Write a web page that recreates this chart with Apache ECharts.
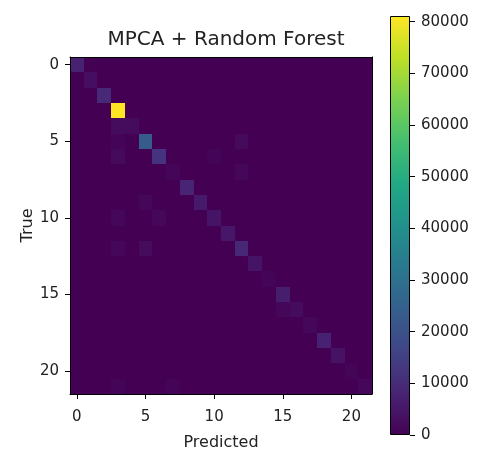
<!DOCTYPE html>
<html>
<head>
<meta charset="utf-8">
<script src="https://cdn.jsdelivr.net/npm/echarts@6/dist/echarts.min.js"></script>
<style>html,body{margin:0;padding:0;background:#fff;}#chart{width:477px;height:450px;}</style>
</head>
<body>
<div id="chart"></div>
<script>
// Class indices (0..21)
var categories = [];
for (var i = 0; i < 22; i++) categories.push(String(i));
var colorbarTicks = [0, 10000, 20000, 30000, 40000, 50000, 60000, 70000, 80000];
var colorMax = 81100;
var titleText = 'MPCA + Random Forest';
var xLabel = 'Predicted';
var yLabel = 'True';

// Confusion matrix rows: True class; columns: Predicted class (estimated values)
var row0  = [7500,300,0,0,0,0,0,0,0,0,0,0,0,0,0,0,0,0,0,0,0,0];
var row1  = [0,3000,0,0,0,0,0,0,0,0,0,0,0,0,0,0,0,0,0,0,0,0];
var row2  = [0,0,9500,0,0,0,0,0,0,0,0,0,0,0,0,0,0,0,0,0,0,0];
var row3  = [0,0,0,81100,0,0,0,0,0,0,0,0,0,0,0,0,0,0,0,0,0,0];
var row4  = [0,0,0,2500,2500,0,0,0,0,0,0,0,0,0,0,0,0,0,0,0,0,0];
var row5  = [0,0,0,1000,0,23500,0,0,0,0,0,0,2000,0,0,0,0,0,0,0,0,0];
var row6  = [0,0,0,2000,0,0,12000,0,0,0,1000,0,0,0,0,0,0,0,0,0,0,0];
var row7  = [0,0,0,0,0,0,0,1200,0,0,0,0,1500,0,0,0,0,0,0,0,0,0];
var row8  = [0,0,0,0,0,0,0,0,8000,0,0,0,0,0,0,0,0,0,0,0,0,0];
var row9  = [0,0,0,0,0,1500,0,0,0,5500,0,0,0,0,0,0,0,0,0,0,0,0];
var row10 = [0,0,0,1500,0,0,1500,0,0,0,4500,0,0,0,0,0,0,0,0,0,0,0];
var row11 = [0,0,0,0,0,0,0,0,0,0,0,5000,0,0,0,0,0,0,0,0,0,0];
var row12 = [0,0,0,1500,0,2500,0,0,0,0,0,0,9000,0,0,0,0,0,0,0,0,0];
var row13 = [0,0,0,0,0,0,0,0,0,0,0,0,0,4500,0,0,0,0,0,0,0,0];
var row14 = [0,0,0,0,0,0,0,0,0,0,0,0,0,0,1000,0,0,0,0,0,0,0];
var row15 = [0,0,0,0,0,0,0,0,0,0,0,0,0,0,0,6500,0,0,0,0,0,0];
var row16 = [0,0,0,0,0,0,0,0,0,0,0,0,0,0,0,1500,2500,0,0,0,0,0];
var row17 = [0,0,0,0,0,0,0,0,0,0,0,0,0,0,0,0,0,1500,0,0,0,0];
var row18 = [0,0,0,0,0,0,0,0,0,0,0,0,0,0,0,0,0,0,7500,0,0,0];
var row19 = [0,0,0,0,0,0,0,0,0,0,0,0,0,0,0,0,0,0,0,4000,0,0];
var row20 = [0,0,0,0,0,0,0,0,0,0,0,0,0,0,0,0,0,0,0,0,1000,0];
var row21 = [0,0,0,1000,0,0,0,1000,0,0,0,0,0,0,0,0,0,0,0,0,0,1500];
var matrix = [row0,row1,row2,row3,row4,row5,row6,row7,row8,row9,row10,row11,row12,row13,row14,row15,row16,row17,row18,row19,row20,row21];

var viridis = ['#440154','#482475','#414487','#355f8d','#2a788e','#21918c','#22a884','#44bf70','#7ad151','#bddf26','#fde725'];

var heatData = [];
for (var r = 0; r < matrix.length; r++) {
  for (var c = 0; c < matrix[r].length; c++) {
    heatData.push([c, r, matrix[r][c]]);
  }
}
var stops = viridis.map(function (col, k) { return { offset: k / (viridis.length - 1), color: col }; });

function snap(v) { return Math.round(v + 1e-6); }
function renderCell(params, api) {
  var center = api.coord([api.value(0), api.value(1)]);
  var size = api.size([1, 1]);
  var x0 = snap(center[0] - size[0] / 2);
  var x1 = snap(center[0] + size[0] / 2);
  var y0 = snap(center[1] - size[1] / 2);
  var y1 = snap(center[1] + size[1] / 2);
  return {
    type: 'rect',
    shape: { x: x0, y: y0, width: x1 - x0, height: y1 - y0 },
    style: { fill: api.visual('color') },
    silent: true
  };
}

var FONT = 'DejaVu Sans';
var TXT = '#222';
var chart = echarts.init(document.getElementById('chart'), null, { renderer: 'canvas' });
chart.setOption({
  animation: false,
  backgroundColor: '#fff',
  title: {
    text: titleText, left: 221, top: 25, textAlign: 'center',
    textStyle: { fontFamily: FONT, fontSize: 20, fontWeight: 'normal', color: TXT }
  },
  grid: [
    { left: 70, top: 57, width: 302, height: 337, outerBoundsMode: 'none', containLabel: false,
      show: true, backgroundColor: '#440154', borderWidth: 0 },
    { left: 390, top: 16, width: 20, height: 419, outerBoundsMode: 'none', containLabel: false }
  ],
  visualMap: {
    show: false, type: 'continuous', min: 0, max: colorMax, dimension: 2, seriesIndex: 0,
    inRange: { color: viridis }
  },
  xAxis: [
    {
      type: 'category', gridIndex: 0, data: categories, position: 'bottom', z: 10,
      axisLine: { show: true, lineStyle: { color: '#000', width: 1 } },
      axisTick: { show: true, alignWithLabel: true, interval: 4, length: 5, lineStyle: { color: '#000' } },
      axisLabel: { interval: 4, margin: 16, fontFamily: FONT, fontSize: 15, color: TXT },
      splitLine: { show: false },
      name: xLabel, nameLocation: 'middle', nameGap: 41, nameMoveOverlap: false,
      nameTextStyle: { fontFamily: FONT, fontSize: 16, color: TXT }
    },
    {
      type: 'category', gridIndex: 0, data: categories, position: 'top', z: 10,
      axisLine: { show: true, lineStyle: { color: '#000', width: 1 } },
      axisTick: { show: false }, axisLabel: { show: false }, splitLine: { show: false }
    },
    {
      type: 'category', gridIndex: 1, data: [''], show: false
    }
  ],
  yAxis: [
    {
      type: 'category', gridIndex: 0, data: categories, inverse: true, position: 'left', z: 10,
      axisLine: { show: true, lineStyle: { color: '#000', width: 1 } },
      axisTick: { show: true, alignWithLabel: true, interval: 4, length: 5, lineStyle: { color: '#000' } },
      axisLabel: { interval: 4, margin: 11, fontFamily: FONT, fontSize: 15, color: TXT },
      splitLine: { show: false },
      name: yLabel, nameLocation: 'middle', nameGap: 34, nameRotate: 90, nameMoveOverlap: false,
      nameTextStyle: { fontFamily: FONT, fontSize: 16, color: TXT }
    },
    {
      type: 'category', gridIndex: 0, data: categories, inverse: true, position: 'right', z: 10,
      axisLine: { show: true, lineStyle: { color: '#000', width: 1 } },
      axisTick: { show: false }, axisLabel: { show: false }, splitLine: { show: false }
    },
    {
      type: 'value', gridIndex: 1, min: 0, max: colorMax, position: 'right',
      axisLine: { show: false },
      axisTick: { show: true, length: 5, customValues: colorbarTicks, lineStyle: { color: '#000' } },
      axisLabel: {
        margin: 11, customValues: colorbarTicks, fontFamily: FONT, fontSize: 15, color: TXT,
        formatter: function (v) { return String(Math.round(v)); }
      },
      splitLine: { show: false }
    }
  ],
  series: [
    {
      type: 'custom', xAxisIndex: 0, yAxisIndex: 0, data: heatData,
      renderItem: renderCell, encode: { x: 0, y: 1 }, silent: true
    },
    {
      type: 'bar', xAxisIndex: 2, yAxisIndex: 2, data: [colorMax], barWidth: '100%', silent: true,
      itemStyle: {
        color: { type: 'linear', x: 0, y: 1, x2: 0, y2: 0, colorStops: stops },
        borderColor: '#000', borderWidth: 1
      }
    }
  ]
});
</script>
</body>
</html>
